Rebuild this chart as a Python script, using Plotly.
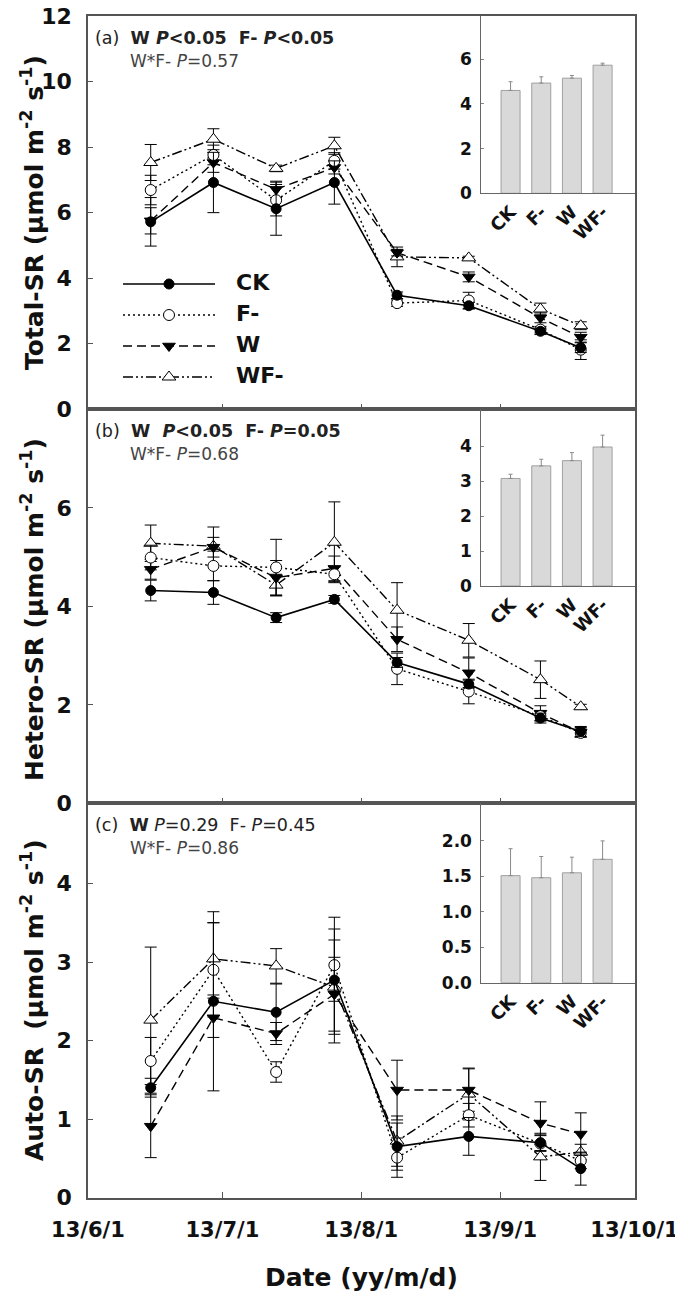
import plotly.graph_objects as go

W, H = 675, 1299

# ---------------- data ----------------
dates = ["2013-06-15", "2013-06-29", "2013-07-13", "2013-07-26",
         "2013-08-09", "2013-08-25", "2013-09-10", "2013-09-19"]
treatments = ["CK", "F-", "W", "WF-"]

month_ticks = ["2013-06-01", "2013-07-01", "2013-08-01", "2013-09-01", "2013-10-01"]
month_labels = ["13/6/1", "13/7/1", "13/8/1", "13/9/1", "13/10/1"]

# (a) Total-SR
total_ck = [5.72, 6.92, 6.12, 6.92, 3.48, 3.16, 2.38, 1.88]
total_f = [6.69, 7.76, 6.38, 7.58, 3.24, 3.32, 2.43, 1.82]
total_w = [5.75, 7.53, 6.71, 7.38, 4.78, 4.04, 2.79, 2.20]
total_wf = [7.53, 8.24, 7.35, 8.04, 4.65, 4.62, 3.06, 2.55]
total_ck_se = [0.74, 0.92, 0.81, 0.66, 0.10, 0.10, 0.10, 0.15]
total_f_se = [0.45, 0.30, 0.48, 0.25, 0.10, 0.25, 0.10, 0.30]
total_w_se = [0.40, 0.30, 0.25, 0.20, 0.10, 0.15, 0.15, 0.15]
total_wf_se = [0.55, 0.32, 0.10, 0.26, 0.30, 0.05, 0.18, 0.12]

# (b) Hetero-SR
hetero_ck = [4.32, 4.28, 3.77, 4.14, 2.86, 2.42, 1.73, 1.46]
hetero_f = [4.99, 4.82, 4.79, 4.65, 2.73, 2.27, 1.77, 1.43]
hetero_w = [4.75, 5.20, 4.58, 4.77, 3.33, 2.65, 1.83, 1.44]
hetero_wf = [5.28, 5.22, 4.43, 5.30, 3.92, 3.31, 2.51, 1.96]
hetero_ck_se = [0.21, 0.24, 0.10, 0.08, 0.10, 0.08, 0.10, 0.10]
hetero_f_se = [0.25, 0.30, 0.57, 0.15, 0.32, 0.25, 0.10, 0.08]
hetero_w_se = [0.20, 0.20, 0.35, 0.25, 0.25, 0.30, 0.15, 0.10]
hetero_wf_se = [0.37, 0.39, 0.22, 0.82, 0.56, 0.34, 0.38, 0.05]

# (c) Auto-SR
auto_ck = [1.40, 2.50, 2.36, 2.77, 0.65, 0.78, 0.70, 0.37]
auto_f = [1.74, 2.90, 1.60, 2.96, 0.51, 1.05, 0.69, 0.47]
auto_w = [0.91, 2.29, 2.09, 2.59, 1.37, 1.37, 0.95, 0.81]
auto_wf = [2.26, 3.04, 2.95, 2.68, 0.72, 1.32, 0.52, 0.58]
auto_ck_se = [0.12, 1.14, 0.36, 0.80, 0.30, 0.24, 0.10, 0.21]
auto_f_se = [0.30, 0.60, 0.13, 0.46, 0.25, 0.15, 0.10, 0.10]
auto_w_se = [0.40, 0.25, 0.14, 0.47, 0.38, 0.27, 0.27, 0.27]
auto_wf_se = [0.93, 0.46, 0.22, 0.60, 0.32, 0.33, 0.30, 0.10]

# inset means and SE
inset_total = [4.60, 4.93, 5.15, 5.73]
inset_total_se = [0.39, 0.28, 0.12, 0.09]
inset_hetero = [3.08, 3.44, 3.59, 3.98]
inset_hetero_se = [0.12, 0.19, 0.23, 0.34]
inset_auto = [1.51, 1.48, 1.55, 1.74]
inset_auto_se = [0.38, 0.30, 0.22, 0.26]

# ---------------- layout helpers ----------------
FONT = "DejaVu Sans"
def fx(p):
    return p / W
def fy(p):
    return 1 - p / H

X0, X1 = 88, 634.5
IX0 = 480.5
panel_px = [(16, 409.3), (409.3, 803.3), (803.3, 1197.7)]
inset_px = [(16, 193.3), (409.3, 586.0), (803.3, 982.7)]
main_ranges = [[0, 12], [0, 8], [0, 5.02]]
main_ticks = [[0, 2, 4, 6, 8, 10, 12], [0, 2, 4, 6], [0, 1, 2, 3, 4]]
inset_ranges = [[0, 7.93], [0, 5.06], [0, 2.53]]
inset_ticks = [[0, 2, 4, 6], [0, 1, 2, 3, 4], [0, 0.5, 1.0, 1.5, 2.0]]
inset_fmt = ["", "", ".1f"]

styles = {
    "CK": dict(dash="solid", lw=1.6, symbol="circle", fill="black", size=10),
    "F-": dict(dash="2px,3px", lw=1.4, symbol="circle", fill="white", size=11),
    "W": dict(dash="9px,5px", lw=1.4, symbol="triangle-down", fill="black", size=11),
    "WF-": dict(dash="10px,3px,2px,3px,2px,3px", lw=1.4, symbol="triangle-up", fill="white", size=12),
}

panel_series = [
    {"CK": (total_ck, total_ck_se), "F-": (total_f, total_f_se),
     "W": (total_w, total_w_se), "WF-": (total_wf, total_wf_se)},
    {"CK": (hetero_ck, hetero_ck_se), "F-": (hetero_f, hetero_f_se),
     "W": (hetero_w, hetero_w_se), "WF-": (hetero_wf, hetero_wf_se)},
    {"CK": (auto_ck, auto_ck_se), "F-": (auto_f, auto_f_se),
     "W": (auto_w, auto_w_se), "WF-": (auto_wf, auto_wf_se)},
]
inset_series = [(inset_total, inset_total_se), (inset_hetero, inset_hetero_se),
                (inset_auto, inset_auto_se)]

fig = go.Figure()
draw_order = ["WF-", "W", "F-", "CK"]

for i in range(3):
    xa = "x" if i == 0 else f"x{i+1}"
    ya = "y" if i == 0 else f"y{i+1}"
    for name in draw_order:
        vals, se = panel_series[i][name]
        st = styles[name]
        fig.add_trace(go.Scatter(
            x=dates, y=vals, mode="lines+markers", name=name, showlegend=False,
            line=dict(color="black", width=st["lw"], dash=st["dash"]),
            marker=dict(symbol=st["symbol"], size=st["size"], color=st["fill"],
                        line=dict(color="black", width=1)),
            error_y=dict(type="data", array=se, color="black", thickness=1, width=6),
            xaxis=xa, yaxis=ya, cliponaxis=False,
        ))

for i in range(3):
    means, se = inset_series[i]
    fig.add_trace(go.Bar(
        x=treatments, y=means, width=0.62, showlegend=False,
        marker=dict(color="#d9d9d9", line=dict(color="#a0a0a0", width=1)),
        error_y=dict(type="data", array=se, arrayminus=[0] * len(se), symmetric=False,
                     color="#8a8a8a", thickness=1, width=2),
        xaxis=f"x{i+4}", yaxis=f"y{i+4}",
    ))

# custom legend drawn in a pixel-space helper axis
LEG_X0, LEG_X1, LEG_TX, LEG_Y0, LEG_DY = 123, 215, 236, 284, 31
for k, name in enumerate(treatments):
    st = styles[name]
    yy = LEG_Y0 + k * LEG_DY
    fig.add_trace(go.Scatter(
        x=[LEG_X0, LEG_X1], y=[yy, yy], mode="lines", showlegend=False,
        line=dict(color="black", width=st["lw"], dash=st["dash"]),
        xaxis="x7", yaxis="y7", hoverinfo="skip"))
    fig.add_trace(go.Scatter(
        x=[(LEG_X0 + LEG_X1) / 2], y=[yy], mode="markers", showlegend=False,
        marker=dict(symbol=st["symbol"], size=st["size"], color=st["fill"],
                    line=dict(color="black", width=1)),
        xaxis="x7", yaxis="y7", hoverinfo="skip"))
    fig.add_trace(go.Scatter(
        x=[LEG_TX], y=[yy], mode="text", text=[f"<b>{name}</b>"],
        textposition="middle right", showlegend=False, cliponaxis=False,
        textfont=dict(family=FONT, size=22, color="#111"),
        xaxis="x7", yaxis="y7", hoverinfo="skip"))

layout = dict(
    width=W, height=H, margin=dict(l=0, r=0, t=0, b=0, autoexpand=False),
    paper_bgcolor="white", plot_bgcolor="rgba(0,0,0,0)",
    font=dict(family=FONT, color="#111"),
    showlegend=False,
)

for i in range(3):
    top, bot = panel_px[i]
    xk = "xaxis" if i == 0 else f"xaxis{i+1}"
    yk = "yaxis" if i == 0 else f"yaxis{i+1}"
    layout[xk] = dict(
        domain=[fx(X0), fx(X1)], anchor="y" if i == 0 else f"y{i+1}",
        type="date", range=["2013-06-01", "2013-10-01"],
        tickmode="array", tickvals=month_ticks, ticktext=month_labels,
        ticks="inside", ticklen=6, tickcolor="#555", tickwidth=1.2,
        showticklabels=(i == 2), ticklabelstandoff=12, ticklabeloverflow="allow",
        tickfont=dict(family=FONT, size=21, color="#111", weight="bold"),
        showline=True, linecolor="#555", linewidth=1.5, mirror=True,
        showgrid=False, zeroline=False, automargin=False,
    )
    layout[yk] = dict(
        domain=[fy(bot), fy(top)], anchor="x" if i == 0 else f"x{i+1}",
        range=main_ranges[i], tickmode="array", tickvals=main_ticks[i],
        ticks="inside", ticklen=5, tickcolor="#555", tickwidth=1.2,
        ticklabelstandoff=10,
        tickfont=dict(family=FONT, size=22, color="#111", weight="bold"),
        showline=True, linecolor="#555", linewidth=1.5, mirror=True,
        showgrid=False, zeroline=False, automargin=False,
    )

for i in range(3):
    top, bot = inset_px[i]
    layout[f"xaxis{i+4}"] = dict(
        domain=[fx(IX0), fx(X1)], anchor=f"y{i+4}", type="category",
        range=[-0.98, 4.04], ticks="", tickangle=-45,
        tickfont=dict(family=FONT, size=18, color="#111", weight="bold"),
        showline=True, linecolor="#666", linewidth=1.3,
        showgrid=False, zeroline=False, automargin=False,
    )
    layout[f"yaxis{i+4}"] = dict(
        domain=[fy(bot), fy(top)], anchor=f"x{i+4}",
        range=inset_ranges[i], tickmode="array", tickvals=inset_ticks[i],
        tickformat=inset_fmt[i], ticks="inside", ticklen=3, tickcolor="#888",
        ticklabelstandoff=4,
        tickfont=dict(family=FONT, size=17, color="#111", weight="bold"),
        showline=True, linecolor="#666", linewidth=1.3,
        showgrid=False, zeroline=False, automargin=False,
    )

layout["xaxis7"] = dict(domain=[0, 1], range=[0, W], visible=False, anchor="y7")
layout["yaxis7"] = dict(domain=[0, 1], range=[H, 0], visible=False, anchor="x7")

unit = "(µmol m<sup>-2</sup> s<sup>-1</sup>)"
ytitles = [f"<b>Total-SR {unit}</b>", f"<b>Hetero-SR {unit}</b>",
           f"<b>Auto-SR&nbsp; {unit}</b>"]
ytitle_centers = [213, 610, 1000]

annotations = []
for t, c in zip(ytitles, ytitle_centers):
    annotations.append(dict(text=t, x=fx(32), y=fy(c), xref="paper", yref="paper",
                            xanchor="center", yanchor="middle", textangle=-90,
                            showarrow=False, font=dict(family=FONT, size=25, color="#111")))
annotations.append(dict(text="<b>Date (yy/m/d)</b>", x=fx((X0 + X1) / 2), y=fy(1277),
                        xref="paper", yref="paper", xanchor="center", yanchor="middle",
                        showarrow=False, font=dict(family=FONT, size=25, color="#111")))

panel_text = [
    ("(a)&nbsp;&nbsp;<b>W <i>P</i>&lt;0.05&nbsp;&nbsp;F- <i>P</i>&lt;0.05</b>",
     "W*F- <i>P</i>=0.57"),
    ("(b)&nbsp;&nbsp;<b>W&nbsp;&nbsp;<i>P</i>&lt;0.05&nbsp;&nbsp;F- <i>P</i>=0.05</b>",
     "W*F- <i>P</i>=0.68"),
    ("(c)&nbsp;&nbsp;<b>W</b> <i>P</i>=0.29&nbsp;&nbsp;F- <i>P</i>=0.45",
     "W*F- <i>P</i>=0.86"),
]
for i, (l1, l2) in enumerate(panel_text):
    top = panel_px[i][0]
    annotations.append(dict(text=l1, x=fx(93), y=fy(top + 22), xref="paper", yref="paper",
                            xanchor="left", yanchor="middle", showarrow=False,
                            font=dict(family=FONT, size=17.5, color="#222")))
    annotations.append(dict(text=l2, x=fx(128), y=fy(top + 45), xref="paper", yref="paper",
                            xanchor="left", yanchor="middle", showarrow=False,
                            font=dict(family=FONT, size=17, color="#444")))

layout["annotations"] = annotations
fig.update_layout(**layout)
fig.write_html("out.html", config={"displayModeBar": False},
               post_script="document.body.style.margin='0px';document.body.style.overflow='hidden';")
